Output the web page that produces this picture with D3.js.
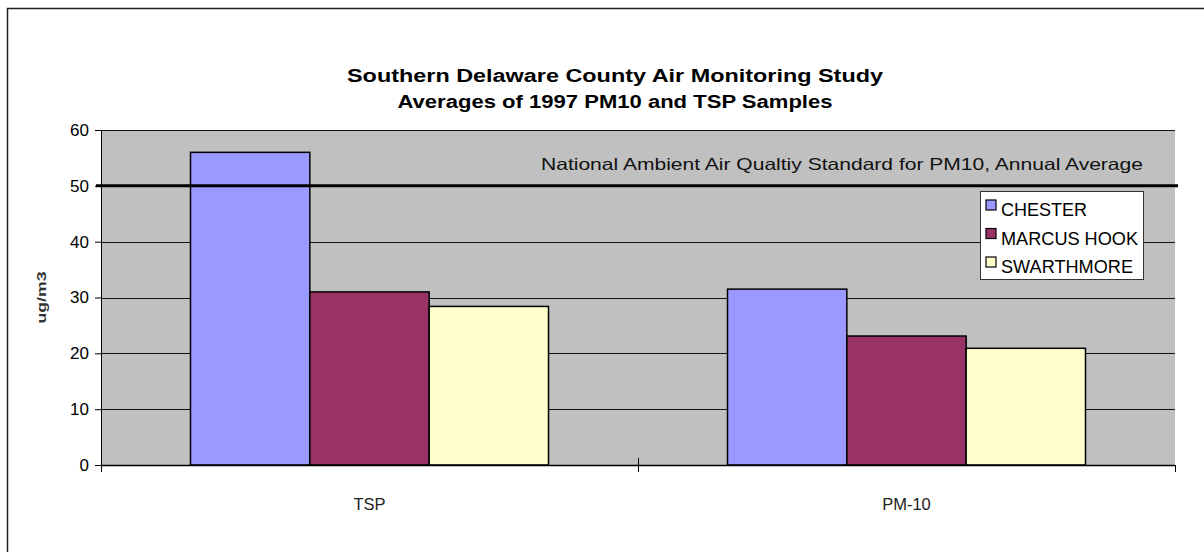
<!DOCTYPE html>
<html>
<head>
<meta charset="utf-8">
<script src="https://cdn.jsdelivr.net/npm/d3@7"></script>
<style>
  body { margin: 0; background: #fff; }
  text { font-family: "Liberation Sans", Arial, sans-serif; fill: #000; }
</style>
</head>
<body>
<div id="chart"></div>
<script>
// Chart data
const categories = ['TSP', 'PM-10'];
const sites = ['CHESTER', 'MARCUS HOOK', 'SWARTHMORE'];
const chesterValues = [56, 31.5];
const marcusHookValues = [31, 23.1];
const swarthmoreValues = [28.4, 20.9];
const yTicks = [0, 10, 20, 30, 40, 50, 60];
const standardValue = 50;
const standardLabel = 'National Ambient Air Qualtiy Standard for PM10, Annual Average';

const seriesValues = [chesterValues, marcusHookValues, swarthmoreValues];
const colors = ['#9999FF', '#993366', '#FFFFCC'];

const W = 1204, H = 552;
const plot = { left: 101, right: 1175, top: 130, bottom: 465 };

const svg = d3.select('#chart')
    .append('svg')
    .attr('width', W)
    .attr('height', H);

// Outer chart border (runs off the page on the right and bottom)
svg.append('rect')
    .attr('x', 7.5)
    .attr('y', 8.5)
    .attr('width', W)
    .attr('height', H)
    .attr('fill', 'none')
    .attr('stroke', '#222')
    .attr('stroke-width', 1.5);

// Title
const title = svg.append('text')
    .attr('text-anchor', 'middle')
    .style('font-weight', 'bold')
    .style('font-size', '18px');
title.append('tspan').attr('x', 615).attr('y', 82)
    .attr('textLength', 536).attr('lengthAdjust', 'spacingAndGlyphs')
    .text('Southern Delaware County Air Monitoring Study');
title.append('tspan').attr('x', 615).attr('y', 108)
    .attr('textLength', 435).attr('lengthAdjust', 'spacingAndGlyphs')
    .text('Averages of 1997 PM10 and TSP Samples');

// Scales
const x = d3.scaleBand()
    .domain(categories)
    .range([plot.left, plot.right])
    .padding(0);

const xSite = d3.scaleBand()
    .domain(sites)
    .range([0, x.bandwidth()])
    .paddingInner(0)
    .paddingOuter(0.75);

const y = d3.scaleLinear()
    .domain([0, 60])
    .range([plot.bottom, plot.top]);

// Plot area background
svg.append('rect')
    .attr('x', plot.left)
    .attr('y', plot.top)
    .attr('width', plot.right - plot.left)
    .attr('height', plot.bottom - plot.top)
    .attr('fill', '#C0C0C0');

// Gridlines
svg.append('g')
    .selectAll('line')
    .data(yTicks.filter(d => d > 0))
    .enter()
    .append('line')
    .attr('x1', plot.left)
    .attr('x2', plot.right)
    .attr('y1', d => Math.round(y(d)) + 0.5)
    .attr('y2', d => Math.round(y(d)) + 0.5)
    .attr('stroke', '#111')
    .attr('stroke-width', 1);

// Bars
sites.forEach((site, i) => {
    svg.append('g')
        .selectAll('rect')
        .data(categories.map((c, j) => ({ cat: c, value: seriesValues[i][j] })))
        .enter()
        .append('rect')
        .attr('x', d => x(d.cat) + xSite(site))
        .attr('y', d => y(d.value))
        .attr('width', xSite.bandwidth())
        .attr('height', d => y(0) - y(d.value))
        .attr('fill', colors[i])
        .attr('stroke', '#000')
        .attr('stroke-width', 1.5);
});

// Y axis
const yAxis = d3.axisLeft(y)
    .tickValues(yTicks)
    .tickSize(6)
    .tickPadding(6);

const yAxisG = svg.append('g')
    .attr('transform', `translate(${plot.left},0)`)
    .call(yAxis);
yAxisG.select('.domain').attr('stroke', '#000');
yAxisG.selectAll('.tick line').attr('stroke', '#000');
yAxisG.selectAll('text')
    .style('font-size', '17px')
    .style('font-family', '"Liberation Sans", Arial, sans-serif')
    .attr('fill', '#000');

// X axis: baseline with crossing ticks at category boundaries
svg.append('line')
    .attr('x1', plot.left)
    .attr('x2', plot.right)
    .attr('y1', plot.bottom + 0.5)
    .attr('y2', plot.bottom + 0.5)
    .attr('stroke', '#000')
    .attr('stroke-width', 1.5);

const boundaries = categories.map(c => x(c)).concat([x.range()[1]]);
svg.append('g')
    .selectAll('line')
    .data(boundaries)
    .enter()
    .append('line')
    .attr('x1', d => Math.round(d) + 0.5)
    .attr('x2', d => Math.round(d) + 0.5)
    .attr('y1', (d, i) => i === 1 ? plot.bottom - 7 : plot.bottom)
    .attr('y2', plot.bottom + 7)
    .attr('stroke', '#000');

svg.append('g')
    .selectAll('text')
    .data(categories)
    .enter()
    .append('text')
    .attr('x', d => x(d) + x.bandwidth() / 2)
    .attr('y', 510)
    .attr('text-anchor', 'middle')
    .style('font-size', '16.5px')
    .style('fill', '#222')
    .text(d => d);

// Y axis label
svg.append('text')
    .attr('transform', `translate(46,${(plot.top + plot.bottom) / 2}) rotate(-90)`)
    .attr('text-anchor', 'middle')
    .style('font-weight', 'bold')
    .style('font-size', '12px')
    .style('fill', '#333')
    .attr('textLength', 52)
    .attr('lengthAdjust', 'spacingAndGlyphs')
    .text('ug/m3');

// PM10 standard line
svg.append('line')
    .attr('x1', plot.left - 5)
    .attr('x2', plot.right + 3)
    .attr('y1', y(standardValue))
    .attr('y2', y(standardValue))
    .attr('stroke', '#000')
    .attr('stroke-width', 3);

svg.append('text')
    .attr('x', 842)
    .attr('y', 170)
    .attr('text-anchor', 'middle')
    .style('font-size', '16.5px')
    .style('fill', '#111')
    .attr('textLength', 602)
    .attr('lengthAdjust', 'spacingAndGlyphs')
    .text(standardLabel);

// Legend
const legendLengths = [86, 137, 132];
const legend = svg.append('g')
    .attr('class', 'legend')
    .attr('transform', 'translate(980,191)');

legend.append('rect')
    .attr('x', 0.5)
    .attr('y', 0.5)
    .attr('width', 163)
    .attr('height', 88)
    .attr('fill', '#fff')
    .attr('stroke', '#333');

sites.forEach((site, i) => {
    const item = legend.append('g')
        .attr('transform', `translate(6, ${9 + i * 28.5})`);

    item.append('rect')
        .attr('width', 10)
        .attr('height', 10)
        .attr('fill', colors[i])
        .attr('stroke', '#000')
        .attr('stroke-width', 1.2);

    item.append('text')
        .attr('x', 15)
        .attr('y', 16)
        .style('font-size', '18px')
        .attr('textLength', legendLengths[i])
        .attr('lengthAdjust', 'spacingAndGlyphs')
        .text(site);
});
</script>
</body>
</html>
